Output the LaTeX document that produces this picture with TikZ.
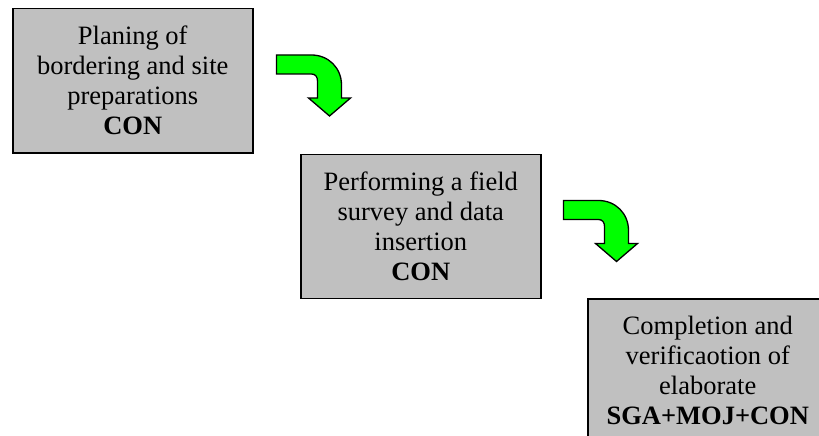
\documentclass[tikz,border=0pt]{standalone}
\usepackage{fontspec}
\setmainfont{Liberation Serif}
\usepackage{tikz}
\usepackage{color}

\definecolor{boxgray}{RGB}{192,192,192}
\definecolor{arrowgreen}{RGB}{0,255,0}

\begin{document}
\begin{tikzpicture}
    [ x=1pt, y=-1pt
    , stage/.style={draw, line width=1.5pt, fill=boxgray, anchor=north west,
        minimum width=240pt, minimum height=144pt, inner sep=0pt,
        align=center, font=\fontsize{26.5}{30}\selectfont}
    , bentarrow/.pic={
        \draw[line width=1.3pt, fill=arrowgreen, line join=miter]
          (0,0) -- (35,0) .. controls (52,0) and (65,13) .. (65,30)
          -- (65,43) -- (74,43) -- (53,61) -- (32,43) -- (41,43) -- (41,26)
          .. controls (41,22) and (39,19) .. (35,19) -- (0,19) -- cycle;
      }
    ]
\useasboundingbox (0,0) rectangle (819,436);
\clip (0,0) rectangle (819,436);
\node[stage] (planing) at (12,8)
    {Planing of\\bordering and site\\preparations\\\textbf{CON}};
\node[stage] (survey) at ([xshift=288pt]planing.south west)
    {Performing a field\\survey and data\\insertion\\\textbf{CON}};
\node[stage] (completion) at ([xshift=287pt,yshift=1pt]survey.south west)
    {Completion and\\verificaotion of\\elaborate\\\textbf{SGA+MOJ+CON}};
% turning arrows between the stages
\pic at ([shift={(23,47)}]planing.north east) {bentarrow};
\pic at ([shift={(22,47)}]survey.north east) {bentarrow};
\end{tikzpicture}
\end{document}
